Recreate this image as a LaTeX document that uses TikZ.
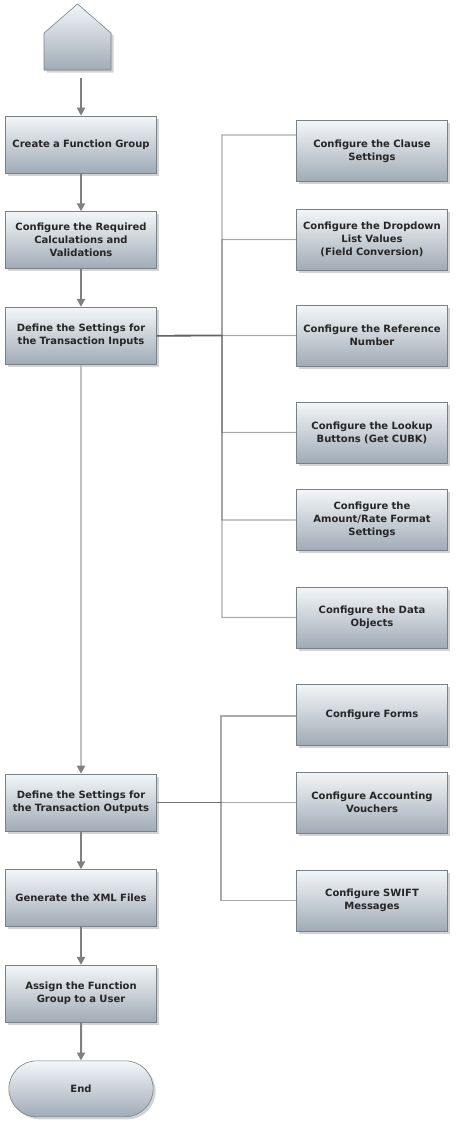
\documentclass[tikz,border=0pt]{standalone}
\usepackage{fontspec}
\newfontfamily\flowfont{DejaVu Sans}
\usetikzlibrary{arrows.meta, positioning, shadows, shapes.misc}
\definecolor{boxtop}{RGB}{244,246,248}
\definecolor{boxbottom}{RGB}{160,171,182}
\definecolor{boxline}{RGB}{120,128,136}
\definecolor{boxtext}{RGB}{38,38,38}
\definecolor{flowgray}{RGB}{128,128,128}
\definecolor{longgray}{RGB}{192,192,192}
\definecolor{branchgray}{RGB}{100,100,100}

\begin{document}
\begin{tikzpicture}[
    x=1pt, y=-1pt,
    node distance=38pt,
    shadebox/.style={top color=boxtop, bottom color=boxbottom, draw=boxline, line width=0.6pt, drop shadow={shadow xshift=2.5pt, shadow yshift=-2.5pt, opacity=0.35}},
    mbox/.style={shadebox, rectangle, minimum width=151pt, minimum height=57pt, text width=149pt, align=center, inner sep=1pt, font=\flowfont\bfseries\fontsize{10}{13}\selectfont, text=boxtext},
    sbox/.style={mbox, minimum height=61pt},
    ebox/.style={shadebox, rounded rectangle, minimum width=151pt, minimum height=56pt, font=\flowfont\bfseries\fontsize{10}{13}\selectfont, text=boxtext},
    flow/.style={draw=flowgray, line width=2pt, -{Triangle[length=8pt, width=8pt]}},
    longflow/.style={flow, draw=longgray, -{Triangle[length=8pt, width=8pt, color=flowgray]}},
    branch/.style={draw=branchgray, line width=1.3pt, draw opacity=0.55},
]
    \useasboundingbox (0,0) rectangle (458,1135);

    % start marker
    \path[shadebox] (44,70) -- (44,33) -- (77.5,4) -- (111,33) -- (111,70) -- cycle;
    \coordinate (start) at (81,78);

    % main column
    \node[mbox] (create) at (81,144.5) {Create a Function Group};
    \node[mbox, below=of create] (required) {Configure the Required\\Calculations and\\Validations};
    \node[mbox, below=of required] (inputs) {Define the Settings for\\the Transaction Inputs};
    \node[mbox] (outputs) at (81,802.5) {Define the Settings for\\the Transaction Outputs};
    \node[mbox, below=of outputs] (xml) {Generate the XML Files};
    \node[mbox, below=of xml] (assign) {Assign the Function\\Group to a User};
    \node[ebox, below=of assign] (end) {End};

    % input settings
    \node[sbox] (clause) at (372,151) {Configure the Clause\\Settings};
    \node[sbox] (dropdown) at (372,239.5) {Configure the Dropdown\\List Values\\(Field Conversion)};
    \node[sbox] (refno) at (372,335.5) {Configure the Reference\\Number};
    \node[sbox] (lookup) at (372,432.5) {Configure the Lookup\\Buttons (Get CUBK)};
    \node[sbox] (amount) at (372,520) {Configure the\\Amount/Rate Format\\Settings};
    \node[sbox] (dataobj) at (372,617.5) {Configure the Data\\Objects};

    % output settings
    \node[sbox] (forms) at (372,714.5) {Configure Forms};
    \node[sbox] (vouchers) at (372,802.5) {Configure Accounting\\Vouchers};
    \node[sbox] (swift) at (372,900.5) {Configure SWIFT\\Messages};

    \coordinate (inbus) at (222,335.5);
    \coordinate (outbus) at (221,802.5);

    \draw[branch] (inputs.east) -- (inbus) |- ([yshift=16pt]clause.west);
    \foreach \kid in {dropdown, refno, lookup, amount, dataobj}
        \draw[branch] (inputs.east) -- (inbus) |- (\kid.west);
    \draw[branch] (outputs.east) -- (outbus) |- ([yshift=-1.5pt]forms.west);
    \foreach \kid in {vouchers, swift}
        \draw[branch] (outputs.east) -- (outbus) |- (\kid.west);

    \draw[flow] (start) -- (create);
    \draw[flow] (create) -- (required);
    \draw[flow] (required) -- (inputs);
    \draw[longflow] (inputs) -- (outputs);
    \draw[flow] (outputs) -- (xml);
    \draw[flow] (xml) -- (assign);
    \draw[flow] (assign) -- (end);
\end{tikzpicture}
\end{document}
